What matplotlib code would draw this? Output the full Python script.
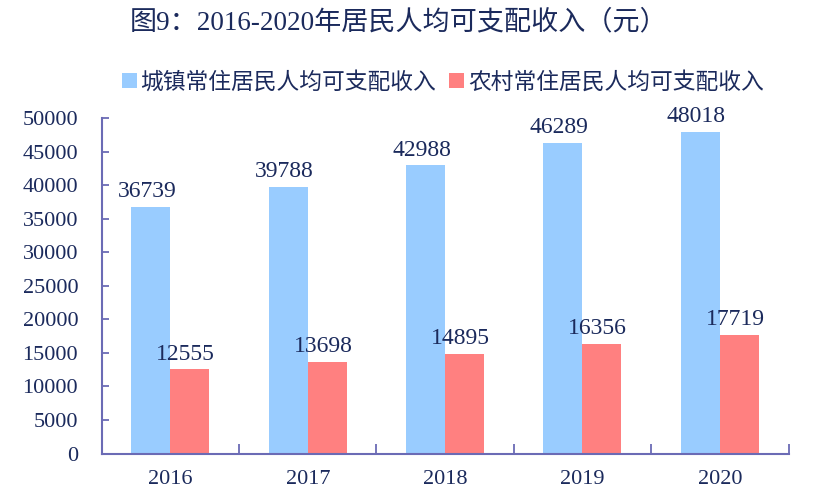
import matplotlib
matplotlib.use("Agg")
import matplotlib.pyplot as plt
import numpy as np

# data
years = ["2016", "2017", "2018", "2019", "2020"]
urban = [36739, 39788, 42988, 46289, 48018]
rural = [12555, 13698, 14895, 16356, 17719]
urban_label = "城镇常住居民人均可支配收入"
rural_label = "农村常住居民人均可支配收入"
title = "图9：2016-2020年居民人均可支配收入（元）"
yticks = [0, 5000, 10000, 15000, 20000, 25000, 30000, 35000, 40000, 45000, 50000]

# styles
blue = "#99CCFF"
red = "#FF8080"
spine_col = "#6B6BB5"
text_col = "#1B2A5C"
num_font = ["Liberation Serif", "Noto Sans CJK SC"]
cjk_font = ["Noto Sans CJK SC", "DejaVu Sans"]

fig = plt.figure(figsize=(8.14, 5.03), dpi=100)
ax = fig.add_axes([0.125, 0.0984, 0.8437, 0.6664])

x = np.arange(len(years))
w = 0.284
b1 = ax.bar(x - w / 2, urban, w, color=blue, label=urban_label, zorder=2)
b2 = ax.bar(x + w / 2, rural, w, color=red, label=rural_label, zorder=2)

for rect, v in zip(list(b1) + list(b2), urban + rural):
    ax.annotate(str(v), (rect.get_x() + rect.get_width() / 2, rect.get_height()),
                xytext=(-3, 7), textcoords="offset points", ha="center", va="baseline",
                fontsize=17, family=num_font, color=text_col)

ax.set_xlim(-0.5, len(years) - 0.5)
ax.set_ylim(0, 50000)
ax.set_yticks(yticks)
ax.set_yticklabels([str(t) for t in yticks], family=num_font, fontsize=16, color=text_col)
ax.tick_params(axis="y", direction="in", length=5, width=1.3, color=spine_col, pad=17)

# category borders as major ticks, labels on minor ticks
ax.set_xticks(np.arange(len(years) + 1) - 0.5)
ax.set_xticklabels([])
ax.tick_params(axis="x", which="major", direction="in", length=7, width=1.3, color=spine_col)
ax.set_xticks(x, minor=True)
ax.set_xticklabels(years, minor=True, family=num_font, fontsize=16, color=text_col)
ax.tick_params(axis="x", which="minor", length=0, pad=12)

for s in ["top", "right"]:
    ax.spines[s].set_visible(False)
for s in ["left", "bottom"]:
    ax.spines[s].set_color(spine_col)
    ax.spines[s].set_linewidth(1.5)

fig.text(0.4896, 1 - 23 / 503, title, ha="center", va="center",
         fontsize=19.5, family=num_font, color=text_col)

leg = fig.legend(handles=[b1, b2], loc="center", bbox_to_anchor=(0.5437, 1 - 82 / 503),
                 ncol=2, frameon=False, prop={"family": cjk_font, "size": 16.4},
                 handlelength=0.66, handleheight=0.66, handletextpad=0.15,
                 columnspacing=0.6, borderpad=0)
for t in leg.get_texts():
    t.set_color(text_col)

fig.savefig("out.png", dpi=100)
